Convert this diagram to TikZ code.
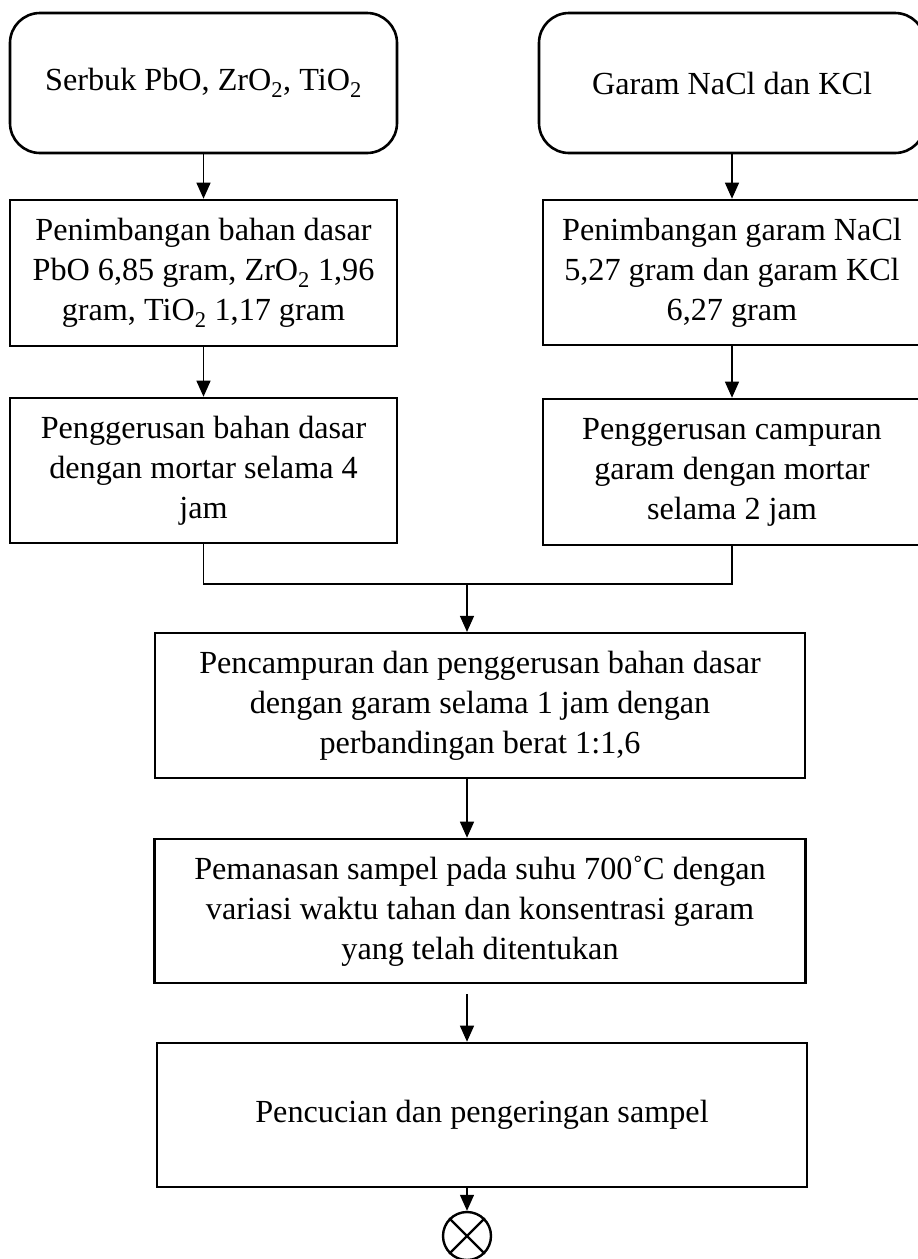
\documentclass[tikz,border=0pt]{standalone}
\usepackage{fontspec}
\setmainfont{Liberation Serif}
\usetikzlibrary{arrows.meta}
\tikzset{
  txt/.style={font=\fontsize{32.2}{40}\selectfont, align=center, inner sep=0pt},
  startbox/.style={txt, draw, line width=2.6pt, rounded corners=30pt},
  procbox/.style={txt, draw, line width=2.6pt, rectangle},
  flow/.style={line width=1.3pt, -{Triangle[length=16pt,width=14pt]}},
  joinline/.style={line width=1.1pt},
}
\begin{document}
\begin{tikzpicture}[x=1pt,y=-1pt]
\path[use as bounding box, clip] (0,0) rectangle (918,1259);
\fill[white] (0,0) rectangle (918,1259);

\node[startbox, minimum width=387pt, minimum height=140pt] (L1) at (203.5,83) {Serbuk PbO, ZrO\textsubscript{2}, TiO\textsubscript{2}};
\node[startbox, minimum width=386pt, minimum height=140pt] (R1) at (732,83) {Garam NaCl dan KCl};

\node[procbox, minimum width=387pt, minimum height=146pt] (L2) at (203.5,273) {Penimbangan bahan dasar\\PbO 6,85 gram, ZrO\textsubscript{2} 1,96\\gram, TiO\textsubscript{2} 1,17 gram};
\node[procbox, minimum width=378pt, minimum height=145pt] (R2) at (732,272.5) {Penimbangan garam NaCl\\5,27 gram dan garam KCl\\6,27 gram};

\node[procbox, minimum width=387pt, minimum height=145pt] (L3) at (203.5,470.5) {Penggerusan bahan dasar\\dengan mortar selama 4\\jam};
\node[procbox, minimum width=378pt, minimum height=146pt] (R3) at (732,472) {Penggerusan campuran\\garam dengan mortar\\selama 2 jam};

\node[procbox, line width=2.2pt, minimum width=650pt, minimum height=145pt] (B4) at (480,705.5) {Pencampuran dan penggerusan bahan dasar\\dengan garam selama 1 jam dengan\\perbandingan berat 1:1,6};
\node[procbox, minimum width=651pt, minimum height=144pt] (B5) at (480,911) {Pemanasan sampel pada suhu 700˚C dengan\\variasi waktu tahan dan konsentrasi garam\\yang telah ditentukan};
\node[procbox, minimum width=650pt, minimum height=144pt] (B6) at (482,1115) {Pencucian dan pengeringan sampel};

\node[draw, circle, line width=2.4pt, minimum size=48pt, inner sep=0pt] (X) at (467,1236) {};
\draw[line width=2.4pt] (X.north west) -- (X.south east);
\draw[line width=2.4pt] (X.north east) -- (X.south west);

\coordinate (J) at (467,584);

\draw[flow] (L1.south) -- (L2.north);
\draw[flow] (L2.south) -- (L3.north);
\draw[flow] (R1.south) -- (R2.north);
\draw[flow] (R2.south) -- (R3.north);

\draw[joinline] (L3.south) |- (J) -| (R3.south);
\draw[flow] (J) -- (J |- B4.north);
\draw[flow] (J |- B4.south) -- (J |- B5.north);
\draw[flow, shorten <=10pt] (J |- B5.south) -- (J |- B6.north);
\draw[flow] (J |- B6.south) -- (X.north);
\end{tikzpicture}
\end{document}
